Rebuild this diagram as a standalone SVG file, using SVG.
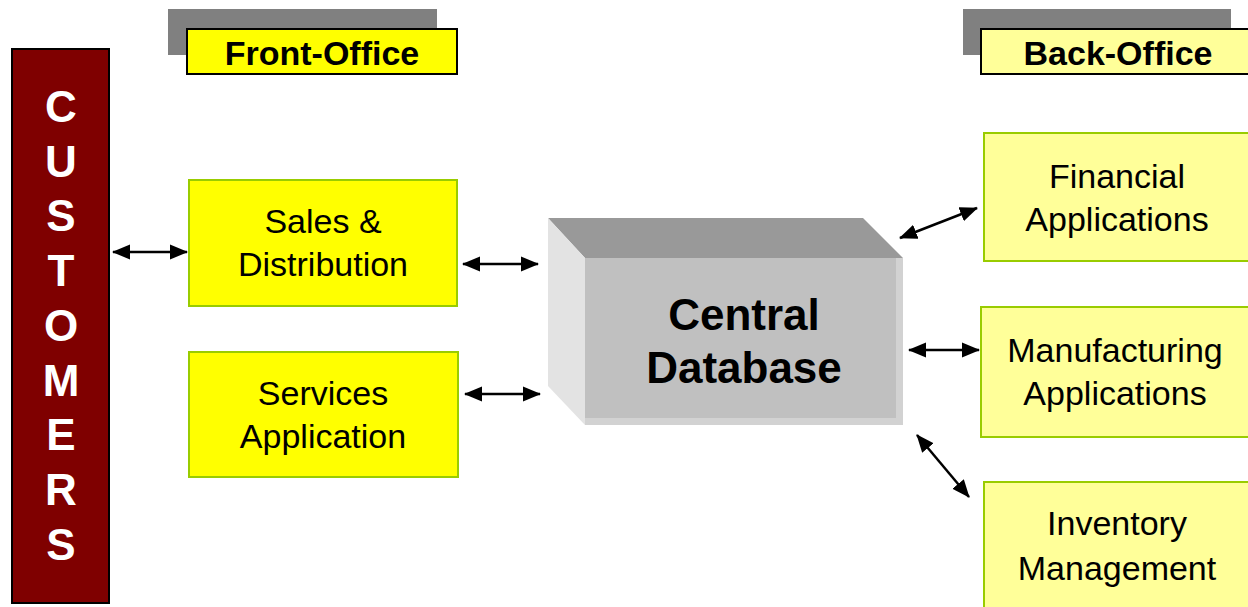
<svg xmlns="http://www.w3.org/2000/svg" width="1248" height="607" viewBox="0 0 1248 607">
<defs>
<style>
.t{font-family:"Liberation Sans",Arial,sans-serif;font-size:34px;fill:#000;text-anchor:middle}
.b{font-weight:bold}
.cust{font-family:"Liberation Sans",Arial,sans-serif;font-size:44px;font-weight:bold;fill:#fff;text-anchor:middle}
.yb{fill:#FFFF00;stroke:#99CC00;stroke-width:2}
.lb{fill:#FFFF99;stroke:#99CC00;stroke-width:2}
.shadow{fill:#808080}
.conn{stroke:#000;stroke-width:2.5;fill:none;marker-start:url(#ah);marker-end:url(#ah)}
</style>
<marker id="ah" markerUnits="userSpaceOnUse" markerWidth="18" markerHeight="16" refX="17" refY="8" orient="auto-start-reverse" viewBox="0 0 18 16">
<path d="M0,0.5 L18,8 L0,15.5 Z" fill="#000"/>
</marker>
</defs>
<rect width="1248" height="607" fill="#fff"/>

<g id="front-office">
<rect class="shadow" x="168" y="9" width="269" height="46"/>
<rect x="187" y="29" width="270" height="45" fill="#FFFF00" stroke="#000" stroke-width="2"/>
<text class="t b" x="322" y="65">Front-Office</text>
</g>

<g id="back-office">
<rect class="shadow" x="963" y="9" width="268" height="46"/>
<rect x="981" y="29" width="270" height="45" fill="#FFFF99" stroke="#000" stroke-width="2"/>
<text class="t b" x="1118" y="65">Back-Office</text>
</g>

<g id="customers">
<rect x="12" y="49" width="97" height="554" fill="#7F0000" stroke="#000" stroke-width="2"/>
<text class="cust" x="61" y="122">C</text>
<text class="cust" x="61" y="177">U</text>
<text class="cust" x="61" y="231">S</text>
<text class="cust" x="61" y="286">T</text>
<text class="cust" x="61" y="341">O</text>
<text class="cust" x="61" y="396">M</text>
<text class="cust" x="61" y="450">E</text>
<text class="cust" x="61" y="505">R</text>
<text class="cust" x="61" y="560">S</text>
</g>

<g id="sales">
<rect class="yb" x="189" y="180" width="268" height="126"/>
<text class="t" x="323" y="233">Sales &amp;</text>
<text class="t" x="323" y="276">Distribution</text>
</g>

<g id="services">
<rect class="yb" x="189" y="352" width="269" height="125"/>
<text class="t" x="323" y="405">Services</text>
<text class="t" x="323" y="448">Application</text>
</g>

<g id="central-database">
<polygon points="548,218 863,218 903,258 585,258" fill="#999999"/>
<polygon points="548,218 585,258 585,425 548,386" fill="#E3E3E3"/>
<rect x="585" y="258" width="318" height="167" fill="#C0C0C0"/>
<rect x="896" y="258" width="7" height="167" fill="#D2D2D2"/>
<rect x="585" y="418" width="318" height="7" fill="#D2D2D2"/>
<text class="t b" x="744" y="330" style="font-size:44px">Central</text>
<text class="t b" x="744" y="383" style="font-size:44px">Database</text>
</g>

<g id="financial">
<rect class="lb" x="984" y="133" width="270" height="128"/>
<text class="t" x="1117" y="188">Financial</text>
<text class="t" x="1117" y="231">Applications</text>
</g>

<g id="manufacturing">
<rect class="lb" x="981" y="307" width="273" height="130"/>
<text class="t" x="1115" y="362">Manufacturing</text>
<text class="t" x="1115" y="405">Applications</text>
</g>

<g id="inventory">
<rect class="lb" x="984" y="482" width="270" height="135"/>
<text class="t" x="1117" y="535">Inventory</text>
<text class="t" x="1117" y="580">Management</text>
</g>

<g id="connectors">
<line class="conn" x1="113" y1="252" x2="187" y2="252"/>
<line class="conn" x1="463" y1="264" x2="538" y2="264"/>
<line class="conn" x1="465" y1="394" x2="540" y2="394"/>
<line class="conn" x1="900" y1="238" x2="977" y2="208"/>
<line class="conn" x1="909" y1="350" x2="979" y2="350"/>
<line class="conn" x1="917" y1="435" x2="969" y2="497"/>
</g>
</svg>
